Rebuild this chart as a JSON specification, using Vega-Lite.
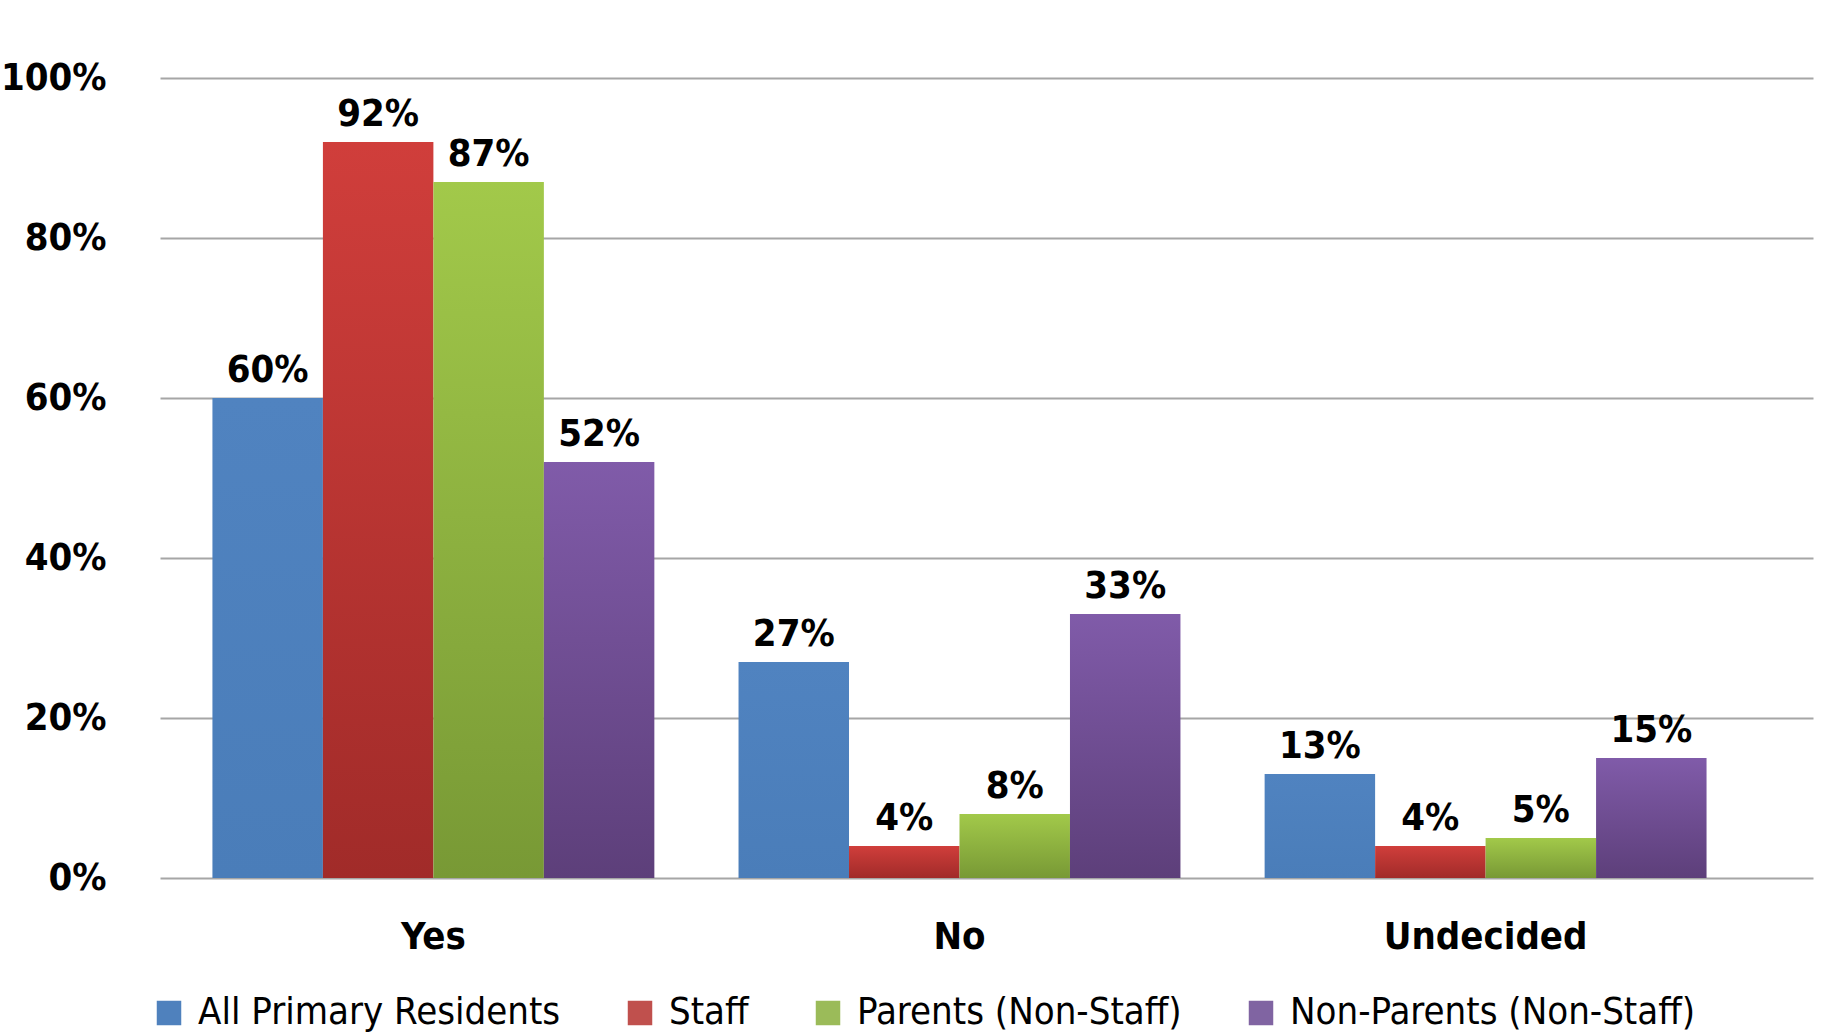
{
  "$schema": "https://vega.github.io/schema/vega-lite/v6.json",
  "autosize": {"type": "none"},
  "width": 1653,
  "height": 800,
  "padding": {"left": 160, "top": 78, "right": 9, "bottom": 157},
  "background": "white",
  "config": {"view": {"stroke": null}, "font": "DejaVu Sans Condensed, Liberation Sans"},
  "data": {"values": [
    {"answer": "Yes", "group": "All Primary Residents", "value": 0.60},
    {"answer": "Yes", "group": "Staff", "value": 0.92},
    {"answer": "Yes", "group": "Parents (Non-Staff)", "value": 0.87},
    {"answer": "Yes", "group": "Non-Parents (Non-Staff)", "value": 0.52},
    {"answer": "No", "group": "All Primary Residents", "value": 0.27},
    {"answer": "No", "group": "Staff", "value": 0.04},
    {"answer": "No", "group": "Parents (Non-Staff)", "value": 0.08},
    {"answer": "No", "group": "Non-Parents (Non-Staff)", "value": 0.33},
    {"answer": "Undecided", "group": "All Primary Residents", "value": 0.13},
    {"answer": "Undecided", "group": "Staff", "value": 0.04},
    {"answer": "Undecided", "group": "Parents (Non-Staff)", "value": 0.05},
    {"answer": "Undecided", "group": "Non-Parents (Non-Staff)", "value": 0.15}
  ]},
  "encoding": {
    "x": {"field": "answer", "type": "nominal", "sort": ["Yes", "No", "Undecided"],
      "scale": {"paddingInner": 0.16, "paddingOuter": 0.151, "align": 0.33},
      "axis": {"title": null, "labelAngle": 0, "domain": false, "ticks": false, "labelPadding": 40, "labelLimit": 800,
        "labelFont": "DejaVu Sans Condensed, Liberation Sans", "labelFontSize": 38, "labelFontWeight": "bold", "labelColor": "#000000"}},
    "xOffset": {"field": "group", "type": "nominal",
      "scale": {"domain": ["All Primary Residents", "Staff", "Parents (Non-Staff)", "Non-Parents (Non-Staff)"], "paddingInner": 0, "paddingOuter": 0}},
    "y": {"field": "value", "type": "quantitative",
      "scale": {"domain": [0, 1], "nice": false},
      "axis": {"title": null, "values": [0, 0.2, 0.4, 0.6, 0.8, 1], "format": ".0%",
        "domain": false, "ticks": false, "labelPadding": 54, "gridColor": "#A6A6A6", "gridWidth": 2,
        "labelFont": "DejaVu Sans Condensed, Liberation Sans", "labelFontSize": 38, "labelFontWeight": "bold", "labelColor": "#000000"}}
  },
  "layer": [
    {
      "mark": {"type": "bar", "opacity": 0},
      "encoding": {
        "color": {"field": "group", "type": "nominal",
          "scale": {"domain": ["All Primary Residents", "Staff", "Parents (Non-Staff)", "Non-Parents (Non-Staff)"],
            "range": ["#4F81BD", "#C0504D", "#9BBB59", "#8064A2"]},
          "legend": {"title": null, "orient": "none", "direction": "horizontal", "legendX": -10, "legendY": 916,
            "symbolType": "square", "symbolSize": 600, "symbolOpacity": 1, "symbolStrokeWidth": 0,
            "labelFont": "DejaVu Sans Condensed, Liberation Sans", "labelFontSize": 38, "labelColor": "#000000",
            "labelLimit": 800, "columnPadding": 60, "labelOffset": 10}}
      }
    },
    {
      "transform": [{"filter": "datum.group === 'All Primary Residents'"}],
      "mark": {"type": "bar", "color": {"gradient": "linear", "x1": 0, "y1": 0, "x2": 0, "y2": 1,
        "stops": [{"offset": 0, "color": "#5083C0"}, {"offset": 1, "color": "#4A7DB9"}]}}
    },
    {
      "transform": [{"filter": "datum.group === 'Staff'"}],
      "mark": {"type": "bar", "color": {"gradient": "linear", "x1": 0, "y1": 0, "x2": 0, "y2": 1,
        "stops": [{"offset": 0, "color": "#D03E3B"}, {"offset": 1, "color": "#A12B29"}]}}
    },
    {
      "transform": [{"filter": "datum.group === 'Parents (Non-Staff)'"}],
      "mark": {"type": "bar", "color": {"gradient": "linear", "x1": 0, "y1": 0, "x2": 0, "y2": 1,
        "stops": [{"offset": 0, "color": "#A2C94A"}, {"offset": 1, "color": "#789935"}]}}
    },
    {
      "transform": [{"filter": "datum.group === 'Non-Parents (Non-Staff)'"}],
      "mark": {"type": "bar", "color": {"gradient": "linear", "x1": 0, "y1": 0, "x2": 0, "y2": 1,
        "stops": [{"offset": 0, "color": "#805BA9"}, {"offset": 1, "color": "#5D3F7A"}]}}
    },
    {
      "mark": {"type": "text", "baseline": "bottom", "dy": -8, "font": "DejaVu Sans Condensed, Liberation Sans",
        "fontSize": 38, "fontWeight": "bold", "color": "#000000"},
      "encoding": {"text": {"field": "value", "type": "quantitative", "format": ".0%"},
        "detail": {"field": "group"}}
    }
  ]
}
